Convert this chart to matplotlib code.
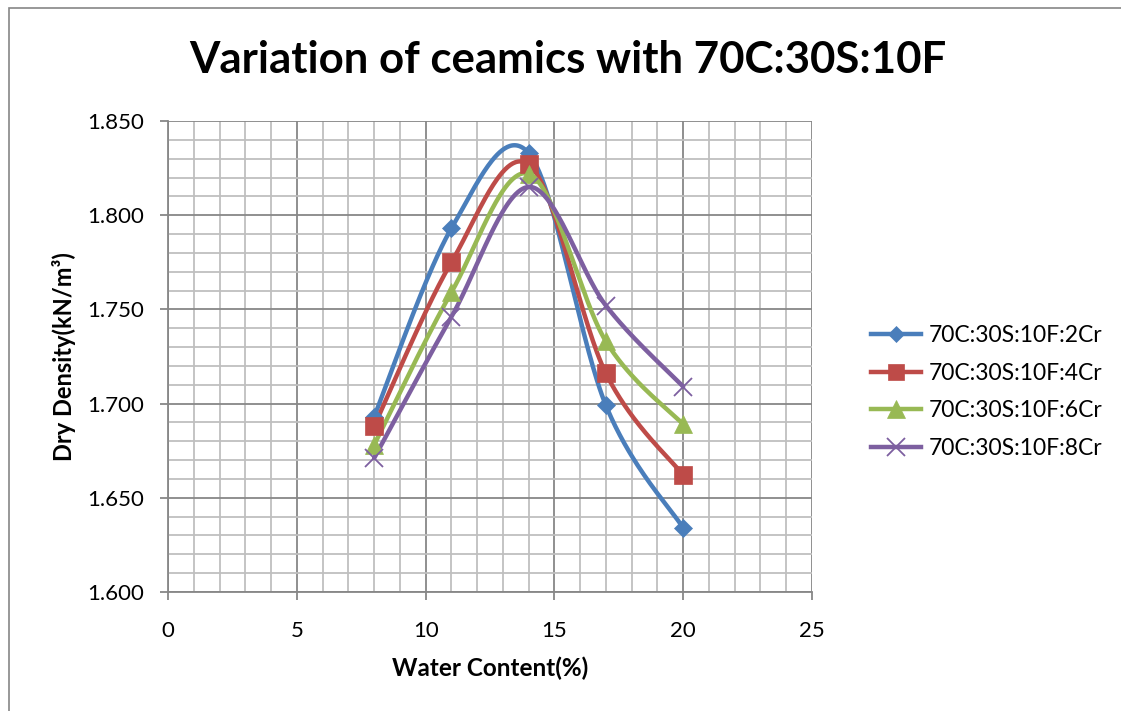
import numpy as np
import matplotlib
matplotlib.use("Agg")
import matplotlib.pyplot as plt
from matplotlib.patches import Rectangle

# Moisture content (%) and dry density (kN/m^3) for each chromium dosage
water_content = [8, 11, 14, 17, 20]
density_2cr = [1.693, 1.793, 1.833, 1.699, 1.634]
density_4cr = [1.688, 1.775, 1.827, 1.716, 1.662]
density_6cr = [1.678, 1.759, 1.822, 1.733, 1.689]
density_8cr = [1.671, 1.746, 1.815, 1.752, 1.709]
series_labels = ["70C:30S:10F:2Cr", "70C:30S:10F:4Cr",
                 "70C:30S:10F:6Cr", "70C:30S:10F:8Cr"]

title_text = "Variation of ceamics with 70C:30S:10F"
x_label = "Water Content(%)"
y_label = "Dry Density(kN/m\u00b3)"

colors = ["#4A7EBB", "#BE4B48", "#98B954", "#7D5FA0"]
markers = ["D", "s", "^", "x"]
msizes = [9.5, 12.5, 13, 13]

plt.rcParams["font.family"] = ["Lato", "DejaVu Sans"]


def smooth_curve(xs, ys, n=60):
    """Catmull-Rom style smoothing expressed as cubic Bezier segments."""
    p = np.column_stack([xs, ys]).astype(float)
    ext = np.vstack([p[0], p, p[-1]])
    out = []
    t = np.linspace(0, 1, n)[:, None]
    for i in range(len(p) - 1):
        p0, p3 = ext[i + 1], ext[i + 2]
        c1 = p0 + (ext[i + 2] - ext[i]) / 6.0
        c2 = p3 - (ext[i + 3] - ext[i + 1]) / 6.0
        seg = ((1 - t) ** 3) * p0 + 3 * ((1 - t) ** 2) * t * c1 \
            + 3 * (1 - t) * t ** 2 * c2 + t ** 3 * p3
        out.append(seg if i == 0 else seg[1:])
    c = np.vstack(out)
    return c[:, 0], c[:, 1]


fig = plt.figure(figsize=(11.21, 7.11), dpi=100)
fig.patch.set_facecolor("white")

# outer chart frame
fig.patches.append(Rectangle((9 / 1121, -0.01), 1.02, 1 - 8 / 711 + 0.01,
                             transform=fig.transFigure, fill=False,
                             edgecolor="#868686", linewidth=1.2))

ax = fig.add_axes([168 / 1121, 1 - 592 / 711, (812 - 168) / 1121, (592 - 121) / 711])

ax.set_xlim(0, 25)
ax.set_ylim(1.600, 1.850)
ax.set_xticks(np.arange(0, 26, 5))
ax.set_yticks(np.arange(1.600, 1.851, 0.05))
ax.set_xticks(np.arange(0, 26, 1), minor=True)
ax.set_yticks(np.arange(1.600, 1.851, 0.01), minor=True)
ax.set_yticklabels([f"{v:.3f}" for v in np.arange(1.600, 1.851, 0.05)])

ax.grid(which="minor", color="#BFBFBF", linewidth=1.3)
ax.grid(which="major", color="#878787", linewidth=1.3)
ax.set_axisbelow(True)

for s in ["top", "right"]:
    ax.spines[s].set_visible(False)
ax.spines["left"].set_color("#878787")
ax.spines["bottom"].set_color("#878787")
ax.spines["left"].set_linewidth(1.3)
ax.spines["bottom"].set_linewidth(1.3)

ax.tick_params(which="major", direction="out", length=6, width=1.3,
               color="#878787", labelsize=16)
ax.tick_params(axis="y", which="major", pad=11)
ax.tick_params(axis="x", which="major", pad=15)
ax.tick_params(which="minor", length=0)

all_series = [density_2cr, density_4cr, density_6cr, density_8cr]
for ys, col, mk, ms, lab in zip(all_series, colors, markers, msizes, series_labels):
    cx, cy = smooth_curve(water_content, ys)
    ax.plot(cx, cy, color=col, linewidth=3.2, solid_capstyle="round", zorder=3)
    mew = 1.3 if mk == "x" else 0.5
    ax.plot(water_content, ys, linestyle="none", marker=mk, markersize=ms,
            color=col, markeredgecolor=col, markeredgewidth=mew, zorder=4)
    # legend proxy
    ax.plot([], [], color=col, linewidth=3.2, marker=mk,
            markersize=ms * (0.85 if mk == "D" else 0.95),
            markeredgewidth=mew, label=lab)

leg = ax.legend(loc="center left", bbox_to_anchor=(1.06, 0.425), frameon=False,
                handlelength=2.15, handletextpad=0.35, labelspacing=0.72,
                fontsize=16.5)

ax.set_xlabel(x_label, fontsize=17.5, fontweight="bold", labelpad=11)
ax.set_ylabel(y_label, fontsize=17, fontweight="bold", labelpad=8)

fig.text(568 / 1121, 1 - 60 / 711, title_text, ha="center", va="center",
         fontsize=31.5, fontweight="bold")

fig.savefig("out.png", dpi=100, facecolor="white")
